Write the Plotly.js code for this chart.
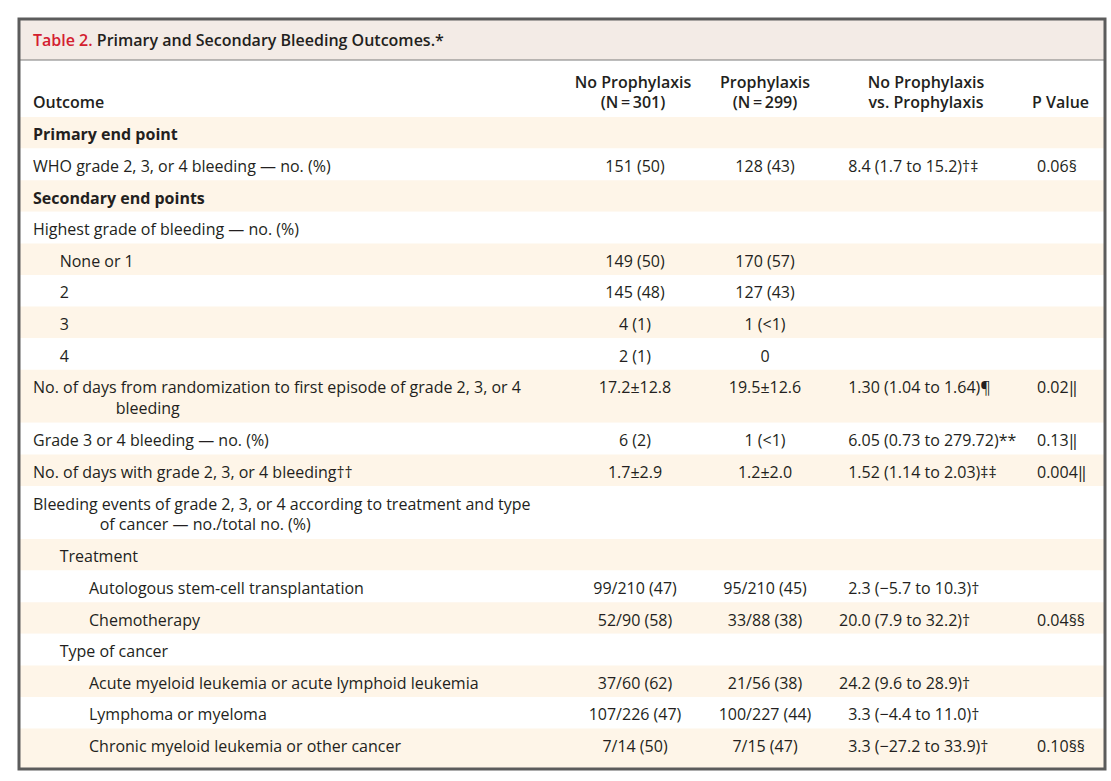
<!DOCTYPE html>
<html>
<head>
<meta charset="utf-8">
<script src="https://cdn.plot.ly/plotly-3.0.1.min.js"></script>
<style>html,body{margin:0;padding:0;background:#fff;}#chart{width:1111px;height:781px;}</style>
</head>
<body>
<div id="chart"></div>
<script>
// ---- data ----
var headerLabels = ["Outcome", "No Prophylaxis|(N\u2009=\u2009301)", "Prophylaxis|(N\u2009=\u2009299)", "No Prophylaxis|vs. Prophylaxis", "P Value"];
var outcomes = [
  "Primary end point",
  "WHO grade 2, 3, or 4 bleeding \u2014 no. (%)",
  "Secondary end points",
  "Highest grade of bleeding \u2014 no. (%)",
  "None or 1",
  "2",
  "3",
  "4",
  "No. of days from randomization to first episode of grade 2, 3, or 4|bleeding",
  "Grade 3 or 4 bleeding \u2014 no. (%)",
  "No. of days with grade 2, 3, or 4 bleeding\u2020\u2020",
  "Bleeding events of grade 2, 3, or 4 according to treatment and type|of cancer \u2014 no./total no. (%)",
  "Treatment",
  "Autologous stem-cell transplantation",
  "Chemotherapy",
  "Type of cancer",
  "Acute myeloid leukemia or acute lymphoid leukemia",
  "Lymphoma or myeloma",
  "Chronic myeloid leukemia or other cancer"
];
var rowLevel = [0,0,0,0,1,1,1,1,0,0,0,0,1,2,2,1,2,2,2];
var rowBold  = [1,0,1,0,0,0,0,0,0,0,0,0,0,0,0,0,0,0,0];
var noProphylaxis = ["", "151 (50)", "", "", "149 (50)", "145 (48)", "4 (1)", "2 (1)", "17.2\u00b112.8", "6 (2)", "1.7\u00b12.9", "", "", "99/210 (47)", "52/90 (58)", "", "37/60 (62)", "107/226 (47)", "7/14 (50)"];
var prophylaxis   = ["", "128 (43)", "", "", "170 (57)", "127 (43)", "1 (&lt;1)", "0", "19.5\u00b112.6", "1 (&lt;1)", "1.2\u00b12.0", "", "", "95/210 (45)", "33/88 (38)", "", "21/56 (38)", "100/227 (44)", "7/15 (47)"];
var difference    = ["", "8.4 (1.7 to 15.2)\u2020\u2021", "", "", "", "", "", "", "1.30 (1.04 to 1.64)\u00b6", "6.05 (0.73 to 279.72)**", "1.52 (1.14 to 2.03)\u2021\u2021", "", "", "2.3 (\u22125.7 to 10.3)\u2020", "20.0 (7.9 to 32.2)\u2020", "", "24.2 (9.6 to 28.9)\u2020", "3.3 (\u22124.4 to 11.0)\u2020", "3.3 (\u221227.2 to 33.9)\u2020"];
var pValue        = ["", "0.06\u00a7", "", "", "", "", "", "", "0.02\u2016", "0.13\u2016", "0.004\u2016", "", "", "", "0.04\u00a7\u00a7", "", "", "", "0.10\u00a7\u00a7"];

// ---- layout / style constants ----
var W = 1111, H = 781;
var FONT = "'Open Sans', 'Noto Sans', sans-serif";
var INK = "#231f20";
var BEIGE = "#fef5e8", WHITE = "#ffffff", BAND = "#f3ebe6", FRAME = "#5c5c5c";
var BOX = {left: 19, right: 1105, top: 19, bandBottom: 60, bodyTop: 117, bottom: 769};
var ROW_H = 31.6, LINE_H = 21.4, TEXT_DY = 19.3;
var colX = [33, 635, 765, 839, 1037];
var colPos = ["middle right", "middle center", "middle center", "middle right", "middle right"];
var EN = "\u2002", TH = "\u2009";
var indents = ["", EN+EN+EN+TH, EN.repeat(7)];
var hang = {8: EN.repeat(10)+TH, 11: EN.repeat(8)+TH};
function figAlign(s){ return /^\d\./.test(s) ? "\u2007" + s : s; }

// row geometry derived from line counts
var nLines = outcomes.map(function(t){ return t.split("|").length; });
var rowTop = [], rowHeight = [], acc = BOX.bodyTop;
nLines.forEach(function(n, i){
  var h = ROW_H + (n - 1) * LINE_H;
  rowTop.push(acc);
  if (i === nLines.length - 1) h = BOX.bottom - acc;
  rowHeight.push(h);
  acc += ROW_H + (n - 1) * LINE_H;
});
var rowCenter = rowTop.map(function(t, i){ return t + rowHeight[i] / 2; });
var rowFill = outcomes.map(function(_, i){ return i % 2 === 0 ? BEIGE : WHITE; });
var valueY = rowTop.map(function(t){ return t + TEXT_DY; });
var labelY = rowTop.map(function(t, i){ return t + TEXT_DY + (nLines[i] - 1) * LINE_H / 2; });

var labelText = outcomes.map(function(t, i){
  var parts = t.split("|");
  var s = indents[rowLevel[i]] + parts[0];
  if (parts.length > 1) s += "<br>" + (hang[i] || "") + parts[1];
  return rowBold[i] ? "<b>" + s + "</b>" : s;
});

var traces = [];
// row background cells
traces.push({
  type: "bar", orientation: "h",
  y: rowCenter, x: rowCenter.map(function(){ return BOX.right - BOX.left; }),
  base: BOX.left, width: rowHeight,
  marker: {color: rowFill, line: {width: 0}},
  hoverinfo: "skip"
});
function textTrace(xv, ys, texts, pos, weight){
  return {
    type: "scatter", mode: "text",
    x: ys.map(function(){ return xv; }), y: ys, text: texts,
    textposition: pos, cliponaxis: false, hoverinfo: "skip",
    textfont: {family: FONT, size: 16, color: INK, weight: weight || "normal"}
  };
}
traces.push(textTrace(colX[0], labelY, labelText, colPos[0]));
traces.push(textTrace(colX[1], valueY, noProphylaxis, colPos[1]));
traces.push(textTrace(colX[2], valueY, prophylaxis, colPos[2]));
traces.push(textTrace(colX[3], valueY, difference.map(figAlign), colPos[3]));
traces.push(textTrace(colX[4], valueY, pValue, colPos[4]));

// header
var hdrX = [33, 633, 765, 926, 1032];
var hdrPos = ["middle right", "middle center", "middle center", "middle center", "middle right"];
headerLabels.forEach(function(h, i){
  var p = h.split("|");
  var txt = p.join("<br>");
  var y = p.length > 1 ? 94 : 104;
  traces.push(textTrace(hdrX[i], [y], [txt], hdrPos[i], 600));
});

var layout = {
  width: W, height: H,
  margin: {l: 0, r: 0, t: 0, b: 0},
  paper_bgcolor: WHITE, plot_bgcolor: WHITE,
  showlegend: false,
  xaxis: {range: [0, W], visible: false, fixedrange: true},
  yaxis: {range: [H, 0], visible: false, fixedrange: true},
  title: {
    text: "<span style='color:#d3202f'>Table 2.</span> Primary and Secondary Bleeding Outcomes.*",
    x: 33 / W, xref: "paper", xanchor: "left",
    y: 1 - 40 / H, yref: "container", yanchor: "middle",
    font: {family: FONT, size: 16, color: INK, weight: 600}
  },
  shapes: [
    {type: "rect", xref: "x", yref: "y", x0: BOX.left, x1: BOX.right, y0: BOX.top, y1: BOX.bandBottom, fillcolor: BAND, line: {width: 0}, layer: "below"},
    {type: "line", xref: "x", yref: "y", x0: BOX.left, x1: BOX.right, y0: BOX.bandBottom, y1: BOX.bandBottom, line: {color: "#7a7a7a", width: 1}},
    {type: "rect", xref: "x", yref: "y", x0: BOX.left, x1: BOX.right, y0: BOX.top, y1: BOX.bottom, fillcolor: "rgba(0,0,0,0)", line: {color: FRAME, width: 3}}
  ]
};

Plotly.newPlot("chart", traces, layout, {displayModeBar: false, staticPlot: true});
</script>
</body>
</html>
